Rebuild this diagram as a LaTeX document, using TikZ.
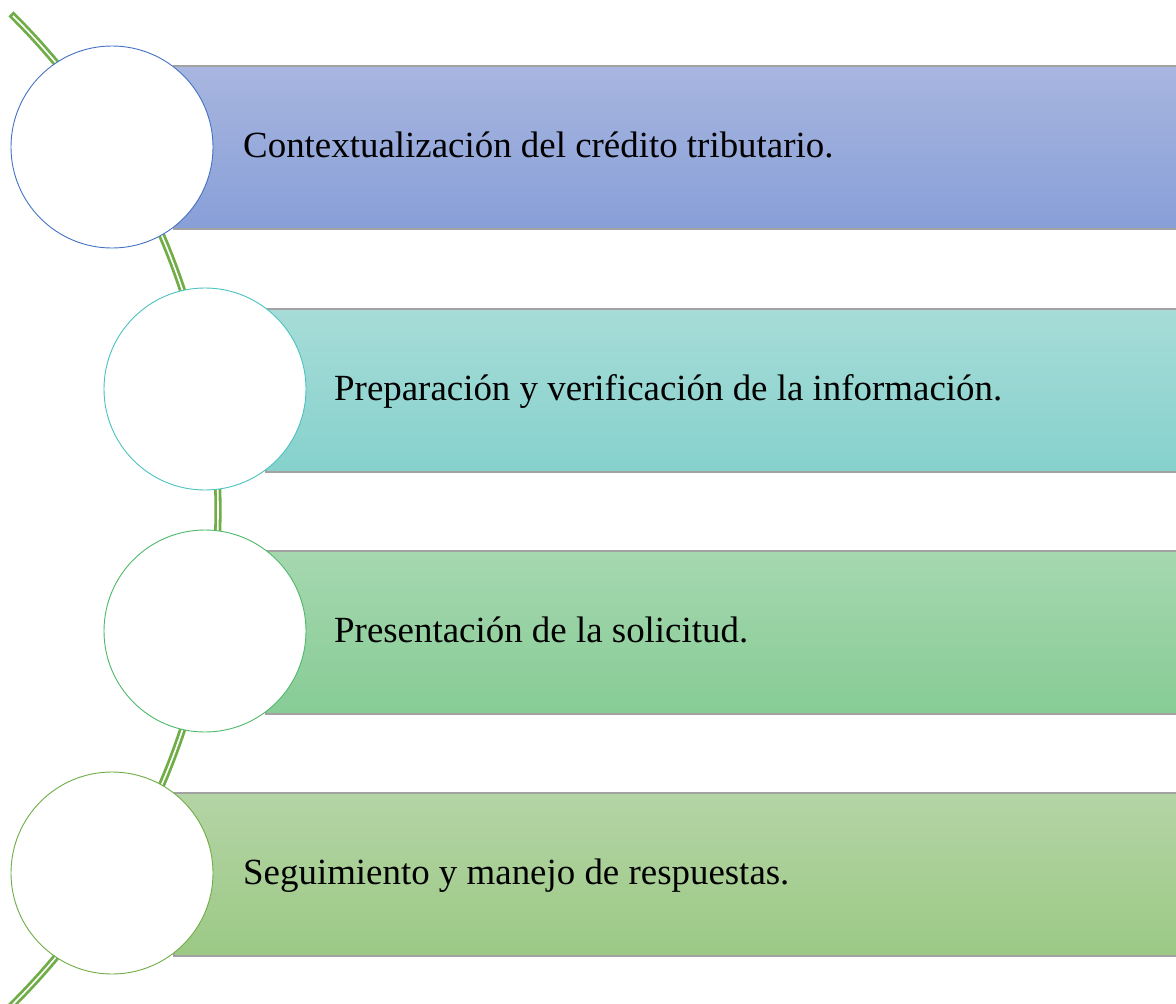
\documentclass[tikz,border=0pt]{standalone}
\usepackage{fontspec}
\setmainfont{Liberation Serif}
\definecolor{arcgreen}{HTML}{70AD47}
\definecolor{edgegray}{HTML}{A2A2A2}
\definecolor{barAtop}{HTML}{A8B6E0}
\definecolor{barAbot}{HTML}{889FD7}
\definecolor{barBtop}{HTML}{A7DCD8}
\definecolor{barBbot}{HTML}{86D1CC}
\definecolor{barCtop}{HTML}{A6D7AF}
\definecolor{barCbot}{HTML}{87CC96}
\definecolor{barDtop}{HTML}{B4D4A5}
\definecolor{barDbot}{HTML}{9CC985}
\definecolor{ringA}{HTML}{4472C4}
\definecolor{ringB}{HTML}{4BC3C0}
\definecolor{ringC}{HTML}{4DB96B}
\definecolor{ringD}{HTML}{70AD47}
\begin{document}
\begin{tikzpicture}[x=1pt,y=-1pt,
  arcline/.style={draw=arcgreen,double=white,line width=2.8pt,double distance=1.6pt,line cap=rect},
  barbox/.style={draw=edgegray,line width=1.5pt,anchor=north west,inner sep=0pt,minimum height=163pt},
  ringnode/.style={circle,fill=white,line width=0.9pt,minimum size=202pt,inner sep=0pt},
  label/.style={anchor=base west,inner sep=0pt,font=\fontsize{36.9}{44}\selectfont,text=black}]
\clip (0,0) rectangle (1176,1004);
\fill[white] (0,0) rectangle (1176,1004);
% arc
\draw[arcline] (-480,510) ++(-45:698) arc[start angle=-45, end angle=47, radius=698];
% bars
\node[barbox, minimum width=1020pt, top color=barAtop, bottom color=barAbot] (b1) at (173,65) {};
\node[barbox, minimum width=930pt, top color=barBtop, bottom color=barBbot] (b2) at (265,308) {};
\node[barbox, minimum width=930pt, top color=barCtop, bottom color=barCbot] (b3) at (265,550) {};
\node[barbox, minimum width=1020pt, top color=barDtop, bottom color=barDbot] (b4) at (173,792) {};
% circles
\node[ringnode, draw=ringA] (c1) at (112,147) {};
\node[ringnode, draw=ringB] (c2) at (205,389) {};
\node[ringnode, draw=ringC] (c3) at (205,631) {};
\node[ringnode, draw=ringD] (c4) at (112,873) {};
% labels
\node[label] (t1) at (243,157) {Contextualización del crédito tributario.};
\node[label] (t2) at (334,400) {Preparación y verificación de la información.};
\node[label] (t3) at (334,642) {Presentación de la solicitud.};
\node[label] (t4) at (243,884) {Seguimiento y manejo de respuestas.};
\end{tikzpicture}
\end{document}
